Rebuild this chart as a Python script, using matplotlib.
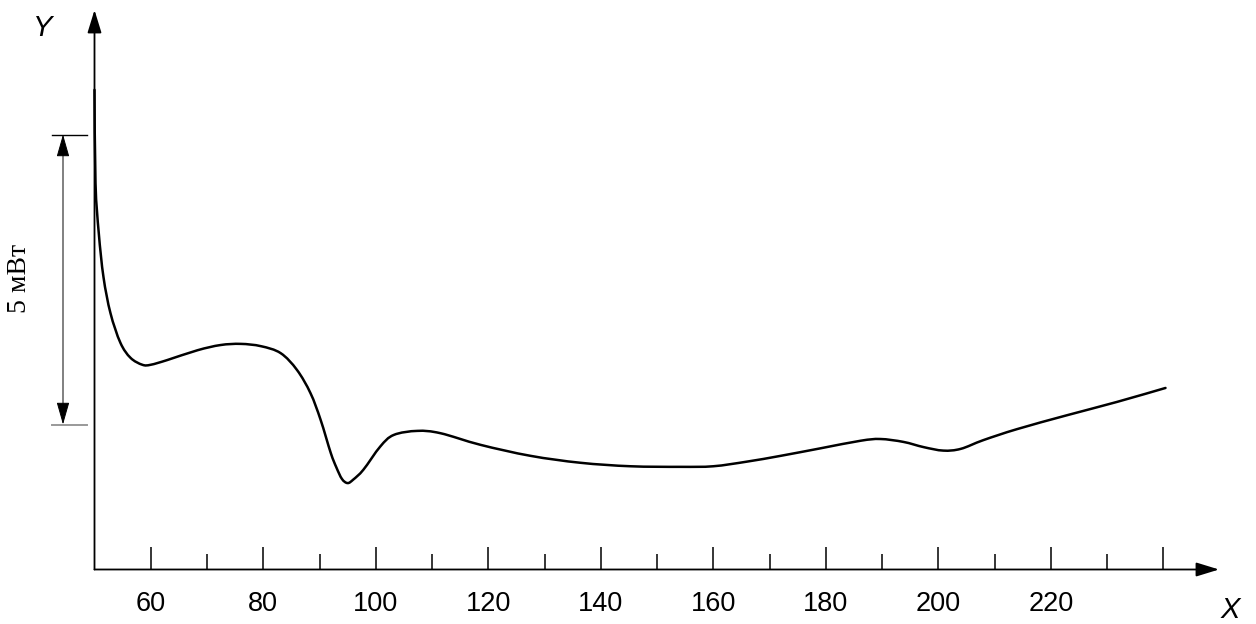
import matplotlib
matplotlib.use("Agg")
import matplotlib.pyplot as plt
import numpy as np
from matplotlib.patches import FancyArrowPatch, PathPatch
from matplotlib.path import Path

# ------------------------------------------------------------
# data, y in mW
# ------------------------------------------------------------
x_vals = [50.0, 50.18, 50.76, 51.6, 52.84, 54.6, 56.4, 58.5, 60.0, 62.9,
          68.3, 72.4, 76.0, 79.6, 83.1, 86.0, 88.4, 90.2, 92.0, 93.0,
          94.0, 95.0, 96.0, 97.8, 100.8, 103.2, 107.4, 111.5, 118.6,
          127.5, 136.4, 145.3, 154.2, 160.0, 166.0, 172.0, 179.1, 186.2, 189.7,
          193.8, 197.4, 200.9, 204.0, 208.0, 214.0, 222.9, 231.8, 240.4]
y_vals = [8.27, 6.66, 5.80, 5.04, 4.42, 3.91, 3.65, 3.53, 3.53, 3.61,
          3.78, 3.87, 3.89, 3.85, 3.73, 3.44, 3.04, 2.58, 2.01, 1.76,
          1.56, 1.49, 1.55, 1.72, 2.12, 2.32, 2.39, 2.35, 2.15,
          1.96, 1.84, 1.78, 1.77, 1.78, 1.86, 1.96, 2.09, 2.22, 2.25,
          2.20, 2.11, 2.05, 2.08, 2.23, 2.42, 2.66, 2.89, 3.13]

major_ticks = [60, 80, 100, 120, 140, 160, 180, 200, 220, 240]
major_labels = ["60", "80", "100", "120", "140", "160", "180", "200", "220", ""]
minor_ticks = [70, 90, 110, 130, 150, 170, 190, 210, 230]

scale_low = 2.5    # 5 mW scale bar
scale_high = 7.5
scale_text = "5 мВт"


def smooth_path(xs, ys):
    # catmull-rom through the read points, drawn as cubic bezier segments
    p = np.column_stack([xs, ys])
    pp = np.vstack([p[0], p, p[-1]])
    verts = [p[0]]
    codes = [Path.MOVETO]
    for i in range(1, len(pp) - 2):
        c1 = pp[i] + (pp[i + 1] - pp[i - 1]) / 6
        c2 = pp[i + 1] - (pp[i + 2] - pp[i]) / 6
        verts += [c1, c2, pp[i + 1]]
        codes += [Path.CURVE4] * 3
    return Path(verts, codes)


# ------------------------------------------------------------
# figure
# ------------------------------------------------------------
W, H = 1256, 624
fig = plt.figure(figsize=(W / 100, H / 100), dpi=100)
ax = fig.add_axes([94.5 / W, (H - 569.5) / H, (1219 - 94.5) / W, (569.5 - 10) / H])

ax.set_xlim(50, 50 + (1219 - 94.5) / 5.625)
ax.set_ylim(0, (569.5 - 10) / 58)

for s in ax.spines.values():
    s.set_visible(False)

curve = PathPatch(smooth_path(x_vals, y_vals), facecolor="none", edgecolor="black",
                  lw=1.8, joinstyle="round", capstyle="round", clip_on=False)
ax.add_patch(curve)

# axes with arrow heads
for end in [(1, 0), (0, 1)]:
    arr = FancyArrowPatch((0, 0), end, transform=ax.transAxes,
                          arrowstyle="-|>,head_length=14,head_width=4.3",
                          mutation_scale=1, color="black", lw=1.3,
                          shrinkA=0, shrinkB=0, clip_on=False)
    ax.add_patch(arr)

# ticks
ax.set_xticks(major_ticks)
ax.set_xticklabels(major_labels, fontfamily="Liberation Sans", fontsize=19.5)
ax.set_xticks(minor_ticks, minor=True)
ax.tick_params(axis="x", which="major", direction="in", length=16.5, width=1.1, pad=15.5)
ax.tick_params(axis="x", which="minor", direction="in", length=11.5, width=1.1)
ax.tick_params(axis="y", left=False, labelleft=False)

# axis names
fig.text(43 / W, 1 - 27.5 / H, "Y", fontfamily="Liberation Sans", style="italic",
         fontsize=21, ha="center", va="center")
fig.text(1230 / W, 1 - 610 / H, "X", fontfamily="Liberation Sans", style="italic",
         fontsize=21, ha="center", va="center")

# 5 mW scale bar left of the y axis
ax.plot([42.44, 48.67], [scale_high, scale_high], color="black", lw=1.0, clip_on=False)
ax.plot([42.44, 48.67], [scale_low, scale_low], color="#999999", lw=1.4, clip_on=False)
bar = FancyArrowPatch((44.4, scale_low), (44.4, scale_high), transform=ax.transData,
                      arrowstyle="<|-|>,head_length=14,head_width=4",
                      mutation_scale=1, color="black", lw=0.7,
                      shrinkA=0, shrinkB=0, clip_on=False)
ax.add_patch(bar)
fig.text(19 / W, 1 - 278 / H, scale_text, fontfamily="Liberation Serif", fontsize=20,
         rotation=90, ha="center", va="center")

plt.savefig("out.png", dpi=100)
